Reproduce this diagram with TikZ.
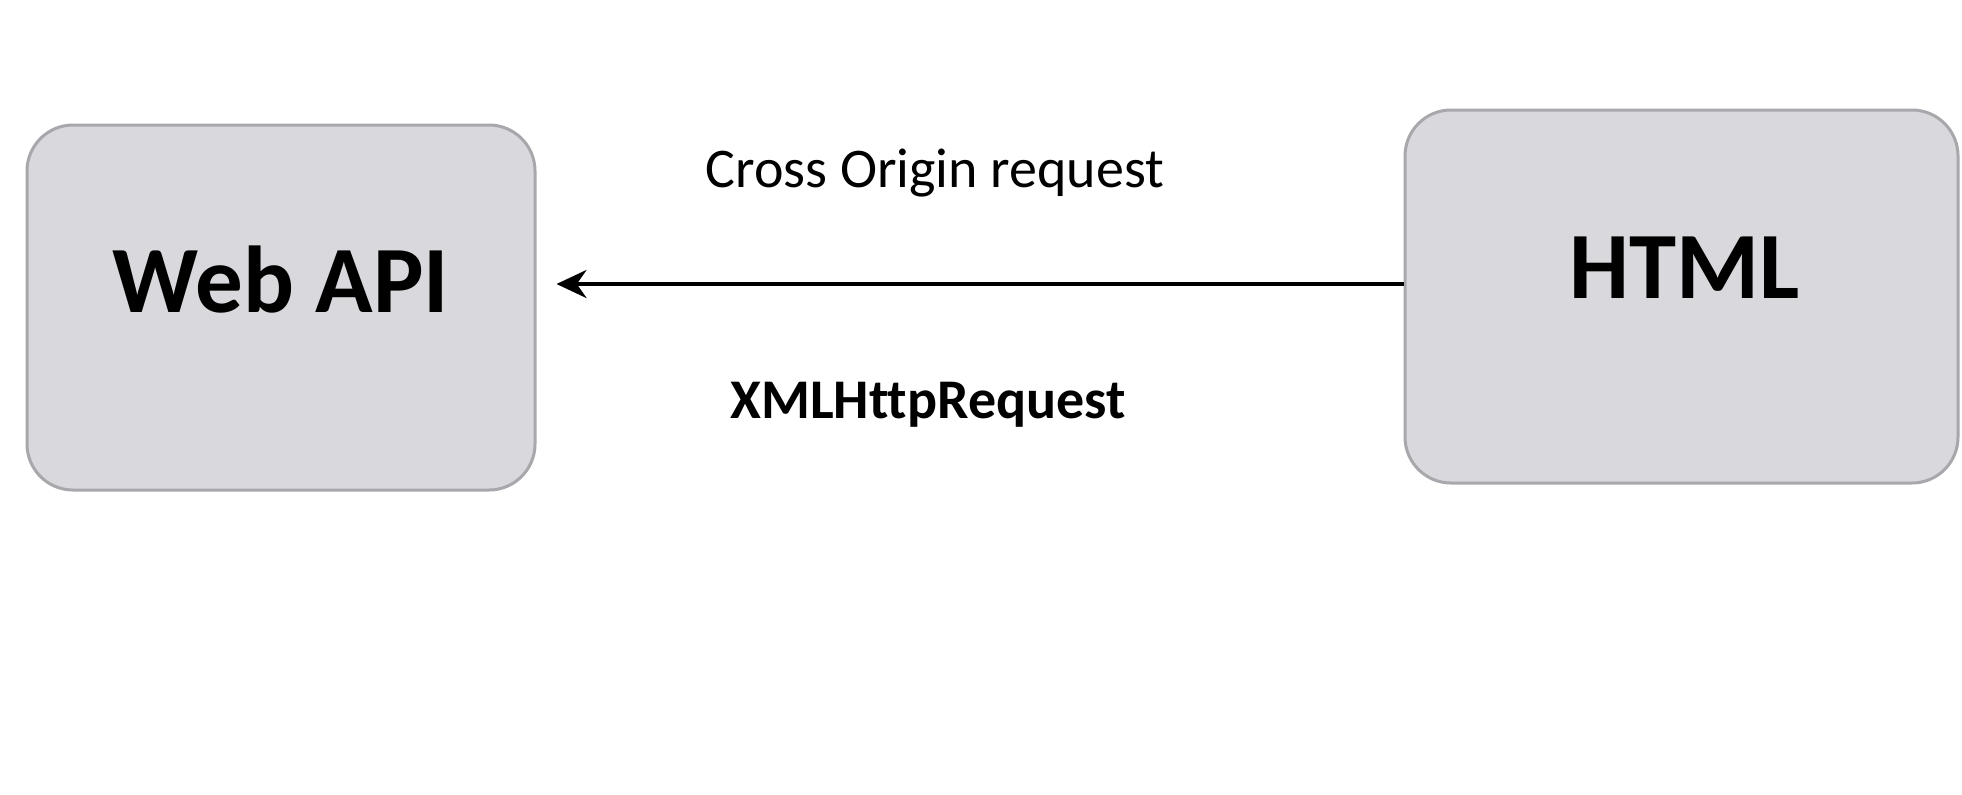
\documentclass[tikz,border=0pt]{standalone}
\usepackage{fontspec}
\setmainfont{Carlito}[Ligatures=CommonOff]
\usetikzlibrary{arrows.meta}
\definecolor{boxfill}{HTML}{D9D9DD}
\definecolor{boxline}{HTML}{A8A8AC}
\begin{document}
\begin{tikzpicture}[x=0.5pt,y=-0.5pt,
  box/.style={draw=boxline, line width=1.5pt, fill=boxfill, rounded corners=23pt, inner sep=0pt},
  boxtext/.style={font=\fontsize{47.5}{50}\selectfont\bfseries, anchor=base, inner sep=0pt},
  lbl/.style={font=\fontsize{28}{30}\selectfont, anchor=base, inner sep=0pt},
  lblbold/.style={lbl, font=\fontsize{28}{30}\selectfont\bfseries},
  arr/.style={line width=2pt, -{Stealth[length=15pt,width=14pt]}}]
\useasboundingbox (0,0) rectangle (1962,794);
\fill[white] (0,0) rectangle (1962,794);
% boxes
\node[box, minimum width=254pt, minimum height=182.5pt] (webapi) at (281,307.5) {};
\node[box, minimum width=276.5pt, minimum height=186.5pt] (html) at (1681.5,296.5) {};
% box texts
\node[boxtext] (webapitext) at (281,312) {Web API};
\node[boxtext] (htmltext) at (1685,298) {HTML};
% arrow
\coordinate (arrowy) at (0,284);
\draw[arr] (html.west |- arrowy) -- ([xshift=10pt]webapi.east |- arrowy);
% labels
\node[lbl] (cross) at (935,187) {Cross Origin request};
\node[lblbold] (xhr) at (928,418) {XMLHttpRequest};
\end{tikzpicture}
\end{document}
